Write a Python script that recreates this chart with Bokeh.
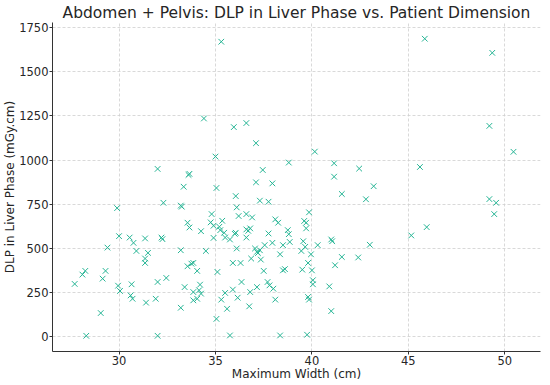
from bokeh.plotting import figure
from bokeh.models import FixedTicker, Range1d
from bokeh.embed import file_html
from bokeh.resources import INLINE

# Maximum width (cm) and DLP in liver phase (mGy.cm)
width_cm = [
    34.4, 35.0, 32.0, 33.6, 33.65, 33.35, 35.05, 35.3, 35.95, 36.6, 37.1, 40.15,
    37.45, 38.8, 41.15, 42.45, 37.1, 37.95, 41.15, 43.2, 45.85, 49.35, 49.2, 50.45,
    45.6, 42.8, 49.2, 49.55, 49.45, 45.15, 45.95, 43.0, 41.55,
    29.9, 32.3, 33.2, 33.25, 34.8, 34.75, 33.55, 33.65, 34.9, 34.25, 34.9, 30.0,
    30.55, 30.75, 31.35, 32.2, 32.25, 29.4, 30.9, 31.5, 31.35, 31.35, 33.2, 34.5,
    33.85, 33.75, 33.55, 34.05, 35.1, 28.25, 28.1, 29.3, 29.15, 27.7, 29.95, 30.05,
    30.65, 30.6, 30.7, 32.45, 32.0, 31.9, 31.4, 33.4, 33.85, 34.15, 34.2, 33.85,
    34.05, 34.25, 33.2, 35.05, 29.05, 28.3, 32.0,
    36.05, 36.1, 37.3, 37.75, 39.85, 36.2, 36.6, 36.9, 35.35, 35.2, 35.25, 35.45,
    35.5, 35.75, 36.05, 36.0, 36.6, 36.7, 36.8, 36.6, 38.1, 38.25, 37.75, 38.75,
    38.8, 38.85, 39.7, 39.7, 39.6, 39.55, 40.3, 41.0, 41.05, 36.1, 37.05, 37.3,
    37.55, 37.95, 38.5, 37.15, 37.2, 36.85, 37.35, 35.9, 36.3, 38.35, 39.45, 39.65,
    39.95, 39.8, 41.55, 42.4, 41.2, 37.5, 38.5, 38.6, 39.5, 40.0, 40.05, 40.05,
    36.35, 35.9, 35.5, 35.3, 35.6, 36.15, 36.8, 37.15, 37.7, 37.8, 38.0, 38.1,
    36.75, 40.9, 39.8, 39.85, 41.0, 35.75, 38.35, 39.75,
]
dlp = [
    1236, 1020, 950, 916, 922, 849, 842, 1671, 1187, 1210, 1096, 1048,
    944, 986, 982, 952, 874, 868, 906, 852, 1688, 1608, 1194, 1047,
    961, 778, 779, 758, 694, 573, 620, 520, 808,
    728, 758, 742, 736, 694, 647, 645, 618, 628, 597, 559, 569,
    561, 531, 556, 561, 552, 504, 485, 474, 442, 417, 489, 485,
    417, 413, 398, 372, 366, 372, 351, 372, 328, 298, 288, 258,
    296, 233, 214, 332, 309, 214, 192, 280, 252, 262, 294, 205,
    214, 243, 163, 100, 133, 4, 4,
    796, 732, 770, 764, 704, 683, 694, 675, 656, 622, 603, 588,
    561, 550, 588, 582, 607, 599, 613, 561, 664, 645, 584, 603,
    580, 536, 645, 613, 655, 540, 518, 550, 540, 499, 499, 489,
    518, 531, 518, 480, 473, 442, 436, 417, 417, 466, 485, 508,
    466, 417, 451, 448, 404, 372, 375, 382, 379, 375, 319, 296,
    309, 266, 247, 209, 157, 220, 252, 280, 309, 290, 271, 209,
    171, 284, 224, 209, 144, 6, 6, 10,
]
x_ticks = [30, 35, 40, 45, 50]
y_ticks = [0, 250, 500, 750, 1000, 1250, 1500, 1750]

FONT = "DejaVu Sans"
TEXT = "#262626"

p = figure(width=542, height=383, output_backend="svg", toolbar_location=None,
           x_range=Range1d(26.55, 51.85), y_range=Range1d(-85, 1780),
           title="Abdomen + Pelvis: DLP in Liver Phase vs. Patient Dimension",
           min_border_left=0, min_border_right=2, min_border_top=0,
           min_border_bottom=0)
p.outline_line_color = None
p.background_fill_color = "white"
p.border_fill_color = "white"

p.title.text_font = FONT
p.title.text_font_size = "15.5px"
p.title.text_font_style = "normal"
p.title.text_color = TEXT
p.title.align = "center"
p.title.standoff = 2

p.scatter(width_cm, dlp, marker="x", size=8, line_width=1,
          line_color="#26b595")

for ax, ticks in ((p.xaxis, x_ticks), (p.yaxis, y_ticks)):
    ax.ticker = FixedTicker(ticks=ticks)
    ax.minor_tick_line_color = None
    ax.major_tick_in = 0
    ax.major_tick_out = 3
    ax.axis_line_color = "#333333"
    ax.major_tick_line_color = "#333333"
    ax.major_label_text_font = FONT
    ax.major_label_text_font_size = "11.5px"
    ax.major_label_text_color = TEXT
    ax.major_label_standoff = 1
    ax.axis_label_text_font = FONT
    ax.axis_label_text_font_size = "12px"
    ax.axis_label_text_font_style = "normal"
    ax.axis_label_text_color = TEXT
    ax.axis_label_standoff = -1

p.xaxis.axis_label = "Maximum Width (cm)"
p.yaxis.axis_label = "DLP in Liver Phase (mGy.cm)"

for g in (p.xgrid, p.ygrid):
    g.grid_line_color = "#cfcfcf"
    g.grid_line_dash = "3 2"
    g.grid_line_width = 0.8

open("out.html", "w").write(file_html(p, INLINE))
